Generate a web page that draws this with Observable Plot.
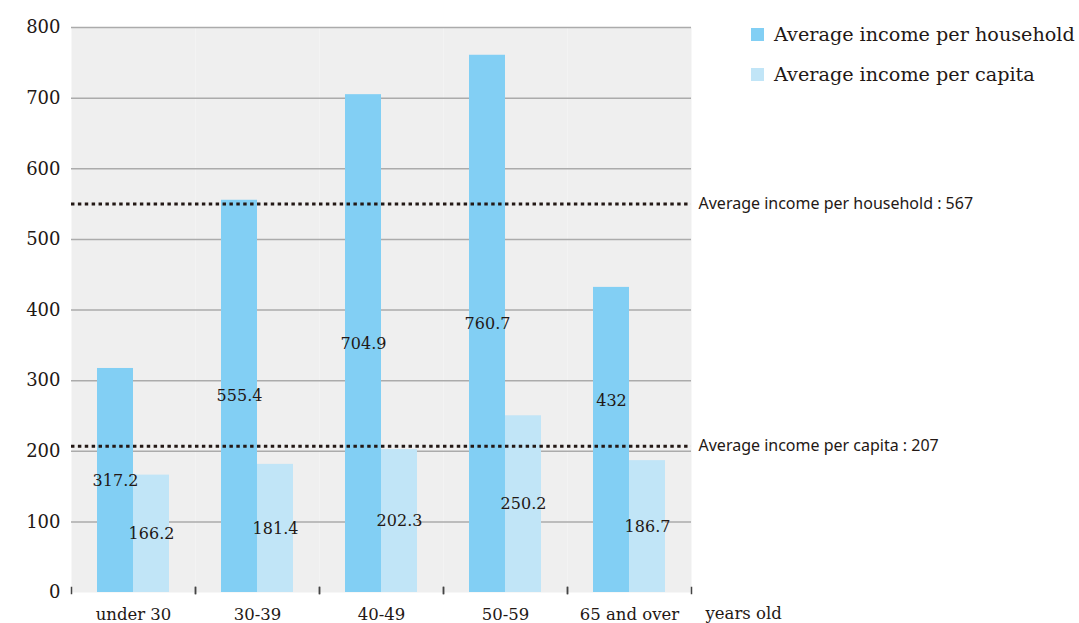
<!DOCTYPE html>
<html><head><meta charset="utf-8">
<script src="https://cdn.jsdelivr.net/npm/d3@7"></script>
<script src="https://cdn.jsdelivr.net/npm/@observablehq/plot@0.6"></script>
<style>
body{margin:0;background:#fff}
#wrap{position:relative;width:1079px;height:623px;overflow:hidden}
#legend{position:absolute;left:751px;top:21px;font-family:"DejaVu Serif",serif;font-size:19.2px;color:#231815}
#legend .row{display:flex;align-items:center;height:26px;margin-bottom:14px;white-space:nowrap}
#legend .sw{width:13px;height:13px;margin-right:10px;flex:none}
</style>
</head><body><div id="wrap"></div>
<script>
const groups = ["under 30", "30-39", "40-49", "50-59", "65 and over"];
const seriesNames = ["Average income per household", "Average income per capita"];
const householdValues = [317.2, 555.4, 704.9, 760.7, 432];
const capitaValues = [166.2, 181.4, 202.3, 250.2, 186.7];
const seriesColors = ["#82cff4", "#c1e5f7"];
const yTicks = [0, 100, 200, 300, 400, 500, 600, 700, 800];
const refLineLabels = ["Average income per household : 567", "Average income per capita : 207"];
const refLineLevels = [550, 207];
const xUnitLabel = "years old";

const data = [];
groups.forEach((g, i) => {
  data.push({group: g, series: seriesNames[0], value: householdValues[i]});
  data.push({group: g, series: seriesNames[1], value: capitaValues[i]});
});
const refs = refLineLabels.map((label, i) => ({label, level: refLineLevels[i]}));
const lastGroup = groups[groups.length - 1];
// a value label whose midpoint sits on a reference line is lifted clear of it
const onRefLine = d => refLineLevels.some(l => Math.abs(d.value / 2 - l) < 15);

const ink = "#231815";
const labelOpts = {fx: "group", x: "series", y: d => d.value / 2, text: d => String(d.value), fontSize: 16, fill: ink};
const plot = Plot.plot({
  width: 1079, height: 623,
  marginLeft: 71, marginRight: 388, marginTop: 27, marginBottom: 31,
  style: {fontFamily: "DejaVu Serif, serif", color: ink, background: "transparent"},
  fx: {domain: groups, padding: 0, label: null, axis: null},
  x: {domain: seriesNames, paddingInner: 0, paddingOuter: 0.722, axis: null},
  y: {domain: [0, 800], axis: null},
  color: {domain: seriesNames, range: seriesColors},
  marks: [
    Plot.frame({fill: "#efefef"}),
    Plot.gridY(yTicks.filter(t => t > 0), {stroke: "#ababab", strokeOpacity: 1, strokeWidth: 1.5}),
    Plot.barY(data, {fx: "group", x: "series", y: "value", fill: "series"}),
    Plot.text(data.filter(d => !onRefLine(d)), labelOpts),
    Plot.text(data.filter(onRefLine), {...labelOpts, dy: -39}),
    Plot.frame({anchor: "left", stroke: "#444", strokeWidth: 1.5, insetTop: 560, insetBottom: -1}),
    Plot.frame({anchor: "right", stroke: "#444", strokeWidth: 1.5, insetTop: 560, insetBottom: -1}),
    Plot.ruleY(refs, {y: "level", stroke: ink, strokeWidth: 3, strokeDasharray: "3.444,3.444"}),
    Plot.text(refs, {fx: () => lastGroup, y: "level", text: "label", frameAnchor: "right", textAnchor: "start", dx: 7,
      fontSize: 16, fontFamily: "'Noto Sans', sans-serif", fill: ink}),
    Plot.text([xUnitLabel], {fx: () => lastGroup, text: d => d, frameAnchor: "bottom-right", textAnchor: "start", dx: 14, dy: 26,
      fontSize: 16.5, fill: ink}),
    Plot.axisY(yTicks, {tickSize: 0, tickPadding: 11, fontSize: 18, label: null, fill: ink}),
    Plot.axisFx({anchor: "bottom", tickSize: 0, tickPadding: 16, fontSize: 16.5, label: null, fill: ink})
  ]
});
const wrap = document.getElementById("wrap");
wrap.appendChild(plot);
const legend = document.createElement("div");
legend.id = "legend";
seriesNames.forEach((name, i) => {
  const row = document.createElement("div");
  row.className = "row";
  const sw = document.createElement("span");
  sw.className = "sw";
  sw.style.background = seriesColors[i];
  const t = document.createElement("span");
  t.textContent = name;
  row.appendChild(sw); row.appendChild(t);
  legend.appendChild(row);
});
wrap.appendChild(legend);
</script>
</body></html>
